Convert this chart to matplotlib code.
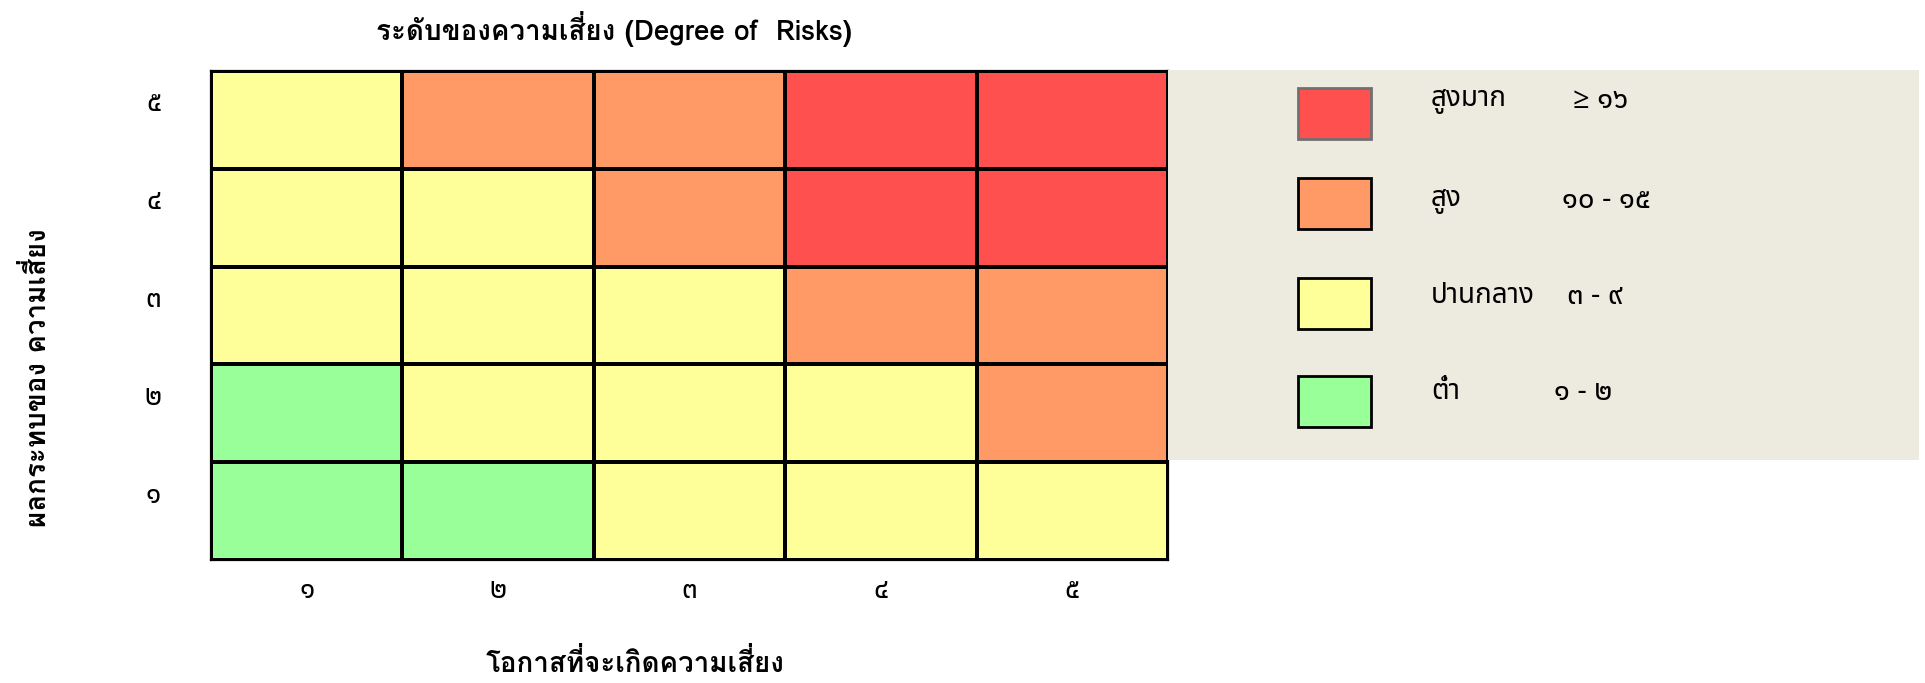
import numpy as np
import matplotlib
matplotlib.use("Agg")
import matplotlib.pyplot as plt
import matplotlib.transforms as mtransforms
from matplotlib.colors import ListedColormap
from matplotlib.patches import Rectangle

plt.rcParams["font.family"] = ["Noto Sans Thai", "Open Sans", "DejaVu Sans"]
bold_fam = ["Loma", "DejaVu Sans"]

likelihood_labels = ["๑", "๒", "๓", "๔", "๕"]
impact_labels = ["๑", "๒", "๓", "๔", "๕"]

# risk level per cell, rows = impact 1..5, cols = likelihood 1..5
# 0 = low, 1 = medium, 2 = high, 3 = very high
impact_1 = [0, 0, 1, 1, 1]
impact_2 = [0, 1, 1, 1, 2]
impact_3 = [1, 1, 1, 2, 2]
impact_4 = [1, 1, 2, 3, 3]
impact_5 = [1, 2, 2, 3, 3]

level_names = ["ต่ำ", "ปานกลาง", "สูง", "สูงมาก"]
level_ranges = ["๑ - ๒", "๓ - ๙", "๑๐ - ๑๕", "≥ ๑๖"]
level_colors = ["#99ff99", "#ffff99", "#ff9966", "#ff5050"]

grid = np.array([impact_1, impact_2, impact_3, impact_4, impact_5])

fig = plt.figure(figsize=(19.25, 6.83), dpi=100)
W, H = 1925, 683

# main matrix
ax = fig.add_axes([211 / W, 1 - 560 / H, (1168 - 211) / W, (560 - 71) / H])
cmap = ListedColormap(level_colors)
ax.pcolormesh(np.arange(6) + 0.5, np.arange(6) + 0.5, grid, cmap=cmap,
              vmin=-0.5, vmax=3.5, edgecolors="black", linewidth=1.6)
ax.set_xlim(0.5, 5.5)
ax.set_ylim(0.5, 5.5)
ax.set_xticks(range(1, 6))
ax.set_xticklabels(likelihood_labels, fontsize=20)
ax.set_yticks(range(1, 6))
ax.set_yticklabels(impact_labels, fontsize=20)
ax.tick_params(length=0)
ax.tick_params(axis="x", pad=12)
ax.tick_params(axis="y", pad=36)
for s in ax.spines.values():
    s.set_linewidth(1.6)

# y labels sit a bit above the row centres in the original
shift = mtransforms.ScaledTranslation(0, 0.19, fig.dpi_scale_trans)
for lab in ax.get_yticklabels():
    lab.set_transform(lab.get_transform() + shift)

fig.text(614 / W, 1 - 29 / H, "ระดับของความเสี่ยง (Degree of  Risks)",
         ha="center", va="center", fontsize=20, fontweight="bold", family=bold_fam)
fig.text(635 / W, 1 - 662 / H, "โอกาสที่จะเกิดความเสี่ยง",
         ha="center", va="center", fontsize=20, fontweight="bold", family=bold_fam)
fig.text(37 / W, 1 - 378 / H, "ผลกระทบของ ความเสี่ยง", rotation=90,
         ha="center", va="center", fontsize=20, fontweight="bold", family=bold_fam)

# legend panel
lg = fig.add_axes([1168 / W, 1 - 460 / H, (1919 - 1168) / W, (460 - 70) / H])
lg.set_facecolor("#edeae0")
lg.set_xlim(1168, 1919)
lg.set_ylim(460, 70)
lg.set_xticks([])
lg.set_yticks([])
for s in lg.spines.values():
    s.set_visible(False)

box_tops = [376, 278, 178, 88]
text_y = [392, 296, 200, 100]
range_x = [1554, 1567, 1562, 1573]
for i in range(4):
    edge = "#707070" if i == 3 else "black"
    lg.add_patch(Rectangle((1298, box_tops[i]), 73, 51, facecolor=level_colors[i],
                           edgecolor=edge, linewidth=2))
    lg.text(1431, text_y[i], level_names[i], ha="left", va="center", fontsize=20)
    lg.text(range_x[i], text_y[i], level_ranges[i], ha="left", va="center", fontsize=21)

fig.savefig("out.png", dpi=100)
